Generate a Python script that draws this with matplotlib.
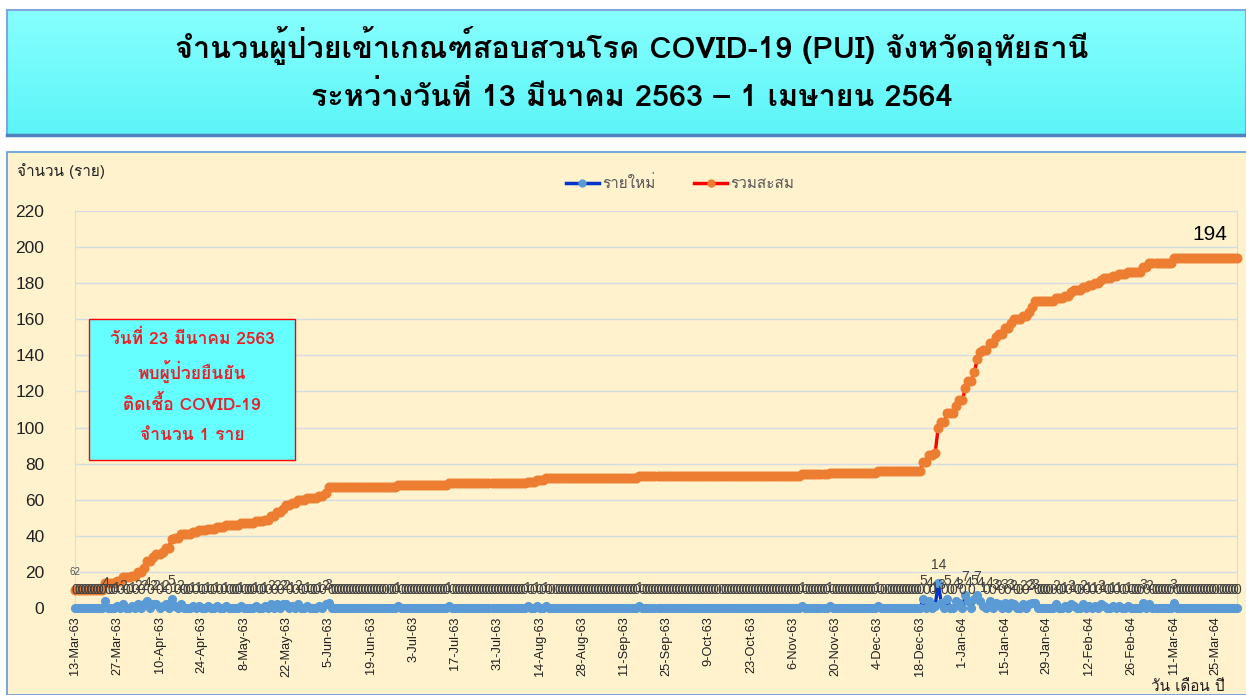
import numpy as np
import matplotlib
matplotlib.use("Agg")
import matplotlib.pyplot as plt
from matplotlib import font_manager as fm
from matplotlib.ft2font import FT2Font
from matplotlib.lines import Line2D
from matplotlib.patches import Rectangle

# ---------------- data ----------------
N_DAYS = 386                     # 13 Mar 2563 .. 1 Apr 2564 (category positions)
START_TOTAL = 10                 # cumulative value on the first day
NEW_CASE_DAY = [10, 14, 16, 19, 21, 23, 24, 26, 27, 29, 30, 32, 33, 35, 39, 41, 44, 47, 50,
                55, 60, 63, 65, 67, 69, 70, 72, 74, 77, 81, 83, 84, 107, 124, 150, 153, 156,
                187, 241, 250, 266, 281, 283, 285, 286, 287, 289, 292, 293, 295, 296, 298,
                299, 300, 301, 303, 305, 306, 308, 310, 311, 314, 316, 317, 318, 325, 328,
                330, 331, 334, 336, 338, 340, 341, 344, 346, 349, 354, 356, 364]
NEW_CASE_COUNT = [4, 1, 2, 1, 2, 2, 4, 2, 2, 1, 2, 5, 1, 2, 1, 1, 1, 1, 1,
                  1, 1, 1, 2, 2, 2, 2, 1, 2, 1, 1, 2, 3, 1, 1, 1, 1, 1,
                  1, 1, 1, 1, 5, 4, 1, 14, 3, 5, 4, 3, 7, 4, 5,
                  7, 4, 1, 4, 3, 2, 3, 3, 2, 2, 2, 3, 3, 2, 1,
                  2, 1, 2, 1, 1, 2, 1, 1, 1, 1, 3, 2, 3]
TICK_LABELS = ["13-Mar-63", "27-Mar-63", "10-Apr-63", "24-Apr-63", "8-May-63", "22-May-63",
               "5-Jun-63", "19-Jun-63", "3-Jul-63", "17-Jul-63", "31-Jul-63", "14-Aug-63",
               "28-Aug-63", "11-Sep-63", "25-Sep-63", "9-Oct-63", "23-Oct-63", "6-Nov-63",
               "20-Nov-63", "4-Dec-63", "18-Dec-63", "1-Jan-64", "15-Jan-64", "29-Jan-64",
               "12-Feb-64", "26-Feb-64", "11-Mar-64", "25-Mar-64"]
TICK_STEP = 14
SERIES_NAMES = ["รายใหม่", "รวมสะสม"]

new_cases = np.zeros(N_DAYS, dtype=int)
for d, c in zip(NEW_CASE_DAY, NEW_CASE_COUNT):
    new_cases[d] += c
cumulative = START_TOTAL + np.cumsum(new_cases)
x = np.arange(N_DAYS)

# ---------------- fonts ----------------
def thai_fonts():
    found = []
    for f in fm.fontManager.ttflist:
        try:
            ft = FT2Font(f.fname)
            if ft.get_char_index(0x0E01) and f.name not in found:
                found.append(f.name)
        except Exception:
            pass
    return found

TF = thai_fonts()
pref = [n for n in ["Loma", "Tlwg Typo", "Garuda", "Sawasdee"] if n in TF]
THAI = (pref or TF)[:1]
FAM = THAI + ["Liberation Sans", "DejaVu Sans"]
LAT = ["Liberation Sans", "DejaVu Sans"]
plt.rcParams['font.family'] = FAM

W, H = 1246, 695
fig = plt.figure(figsize=(W / 100, H / 100), dpi=100)
fig.patch.set_facecolor("white")

def fx(px):
    return px / W

def fy(py):
    return 1 - py / H

# chart area background (behind everything)
fig.patches.append(Rectangle((fx(7), 0), 1.0, fy(152), transform=fig.transFigure,
                             facecolor="#FFF2CC", edgecolor="#5B9BD5", linewidth=1.2,
                             zorder=-10))

# title box with gradient
tax = fig.add_axes([fx(7), fy(135), fx(1246) - fx(7), fy(10) - fy(135)])
grad = np.linspace(0, 1, 100).reshape(-1, 1)
c1 = np.array([0.53, 1.0, 1.0]); c2 = np.array([0.36, 0.96, 0.97])
img = c1[None, None, :] * (1 - grad[..., None]) + c2[None, None, :] * grad[..., None]
tax.imshow(img, aspect='auto', extent=[0, 1, 0, 1])
tax.set_xticks([]); tax.set_yticks([])
for s in tax.spines.values():
    s.set_color("#7FA7DB"); s.set_linewidth(1.5)
tax.spines['bottom'].set_color("#4F81BD"); tax.spines['bottom'].set_linewidth(2.5)
fig.text(fx(632), fy(45), "จำนวนผู้ป่วยเข้าเกณฑ์สอบสวนโรค COVID-19 (PUI) จังหวัดอุทัยธานี",
         ha='center', va='center', fontsize=22, fontweight='bold', color='black')
fig.text(fx(632), fy(96), "ระหว่างวันที่ 13 มีนาคม 2563 – 1 เมษายน 2564",
         ha='center', va='center', fontsize=22, fontweight='bold', color='black')

ax = fig.add_axes([fx(75), fy(608), fx(1237) - fx(75), fy(211) - fy(608)])
ax.set_facecolor("none")
ax.set_xlim(0, N_DAYS - 1)
ax.set_ylim(0, 220)
ax.set_yticks(np.arange(0, 221, 20))
ax.grid(axis='y', color="#D6DCE4", linewidth=1.0)
ax.set_axisbelow(True)
for s in ['top', 'bottom']:
    ax.spines[s].set_visible(False)
ax.spines['left'].set_color("#D6DCE4")
ax.spines['right'].set_color("#D6DCE4")
ax.tick_params(axis='y', length=0, pad=22, labelsize=12.5, labelcolor="#222222")
for t in ax.get_yticklabels():
    t.set_family(LAT)
ax.set_xticks(x[::TICK_STEP][:len(TICK_LABELS)])
ax.set_xticklabels(TICK_LABELS, rotation=90, fontsize=9.2, color="#1F1F1F", family=LAT)
ax.tick_params(axis='x', length=0, pad=6)

ax.plot(x, new_cases, color="#0033CC", linewidth=2.4, marker='o', markersize=5.6,
        markerfacecolor="#5B9BD5", markeredgecolor="#5B9BD5", zorder=4, clip_on=False)
ax.plot(x, cumulative, color="#FF0000", linewidth=2.4, marker='o', markersize=6.2,
        markerfacecolor="#ED7D31", markeredgecolor="#ED7D31", zorder=3, clip_on=False)

for xi, v in zip(x, new_cases):
    ax.annotate(str(v), (xi, v), xytext=(0, 18), textcoords='offset pixels',
                ha='center', va='center', fontsize=10, color="#404040", zorder=5,
                family=LAT, annotation_clip=False)

ax.annotate("62", (0, 20), xytext=(0, 0), textcoords='offset pixels', ha='center',
            va='center', fontsize=7, color="#555555", annotation_clip=False, family=LAT)
ax.annotate(str(cumulative[-1]), (x[-1], cumulative[-1]), xytext=(-27, 23),
            textcoords='offset pixels', ha='center', va='center', fontsize=15,
            color="black", family=LAT)

# y title, x title
fig.text(fx(17), fy(171), "จำนวน (ราย)", ha='left', va='center', fontsize=11, color="#222222")
fig.text(fx(1225), fy(687), "วัน เดือน ปี", ha='right', va='center', fontsize=11, color="#222222")

# legend
handles = [Line2D([], [], color="#0033CC", linewidth=2.5, marker='o', markersize=5,
                  markerfacecolor="#5B9BD5", markeredgecolor="#5B9BD5"),
           Line2D([], [], color="#FF0000", linewidth=2.5, marker='o', markersize=5,
                  markerfacecolor="#ED7D31", markeredgecolor="#ED7D31")]
leg = fig.legend(handles, SERIES_NAMES, loc='center', bbox_to_anchor=(fx(680), fy(183)),
                 ncol=2, frameon=False, fontsize=11, handlelength=2.2, handletextpad=0.2,
                 columnspacing=2.5)
for t in leg.get_texts():
    t.set_color("#595959")

# annotation box
fig.patches.append(Rectangle((fx(89), fy(460)), fx(295) - fx(89), fy(319) - fy(460),
                             transform=fig.transFigure, facecolor="#66FFFF",
                             edgecolor="#FF0000", linewidth=1.0, zorder=6))
box_lines = ["วันที่ 23 มีนาคม 2563", "พบผู้ป่วยยืนยัน", "ติดเชื้อ COVID-19", "จำนวน 1 ราย"]
for yy, t in zip([338, 371, 404, 436], box_lines):
    fig.text(fx(192), fy(yy), t, ha='center', va='center', fontsize=12.5,
             fontweight='bold', color="#E8202A", zorder=7)

fig.savefig("out.png", dpi=100)
